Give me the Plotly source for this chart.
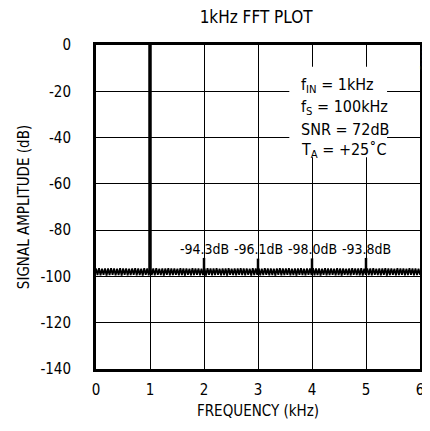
import numpy as np
import plotly.graph_objects as go

# ---- data ----
x_ticks = [0, 1, 2, 3, 4, 5, 6]
y_ticks = [0, -20, -40, -60, -80, -100, -120, -140]

fund_freq = [1]
fund_peak_db = [0]
floor_db = -98.0

harm_freq = [2, 3, 4, 5]
harm_peak_db = [-92.0, -92.3, -92.2, -92.0]
harm_labels = ["-94.3dB", "-96.1dB", "-98.0dB", "-93.8dB"]

noise_db = [
    -96.6, -99.4, -96.4, -99.5, -96.7, -99.3, -96.5, -99.6, -96.6, -99.4, -96.4, -99.3,
    -96.5, -99.5, -96.7, -99.4, -96.4, -99.6, -96.6, -99.3, -96.5, -99.5, -96.7, -99.4,
    -96.6, -99.3, -96.4, -99.5, -96.5, -99.4, -96.7, -99.6, -96.4, -99.3, -96.6, -99.5,
    -96.5, -99.4, -96.6, -99.5, -96.4, -99.3, -96.7, -99.4, -96.5, -99.6, -96.6, -99.3,
    -96.4, -99.5, -96.6, -99.4, -96.5, -99.3, -96.7, -99.5, -96.4, -99.4, -96.6, -99.6,
    -96.5, -99.3, -96.7, -99.5, -96.4, -99.4, -96.6, -99.3, -96.5, -99.5, -96.7, -99.4,
    -96.6, -99.6, -96.4, -99.3, -96.5, -99.5, -96.6, -99.4, -96.4, -99.3, -96.7, -99.5,
    -96.5, -99.4, -96.6, -99.6, -96.4, -99.3, -96.7, -99.4, -96.5, -99.5, -96.6, -99.3,
    -96.4, -99.4, -96.6, -99.5, -96.5, -99.3, -96.7, -99.6, -96.4, -99.4, -96.6, -99.3,
    -96.5, -99.5, -96.7, -99.4, -96.4, -99.3, -96.6, -99.5, -96.5, -99.4, -96.7, -99.6,
    -96.6, -99.3, -96.4, -99.5, -96.5, -99.4, -96.6, -99.3, -96.4, -99.5, -96.7, -99.4,
    -96.5, -99.6, -96.6, -99.3, -96.4, -99.4, -96.7, -99.5, -96.5, -99.3, -96.6, -99.4,
    -96.4, -99.5, -96.6, -99.4, -96.5, -99.6, -96.7, -99.3, -96.4, -99.5, -96.6, -99.4,
    -96.5, -99.3, -96.7, -99.5, -96.4, -99.4, -96.6, -99.6, -96.5, -99.3, -96.7, -99.4,
    -96.6, -99.5, -96.4, -99.3, -96.5, -99.4, -96.6, -99.5, -96.4, -99.6, -96.7, -99.3,
    -96.5, -99.4, -96.6, -99.5, -96.4, -99.3, -96.7, -99.4, -96.5, -99.5, -96.6, -99.3,
    -96.4, -99.6, -96.6, -99.4, -96.5, -99.3, -96.7, -99.5, -96.4, -99.4, -96.6, -99.3,
    -96.5, -99.5, -96.7, -99.4, -96.4, -99.3, -96.6, -99.5, -96.5, -99.4, -96.7, -99.3,
]
noise_freq = np.linspace(0, 6, len(noise_db))

cond_lines = [
    "f<sub>IN</sub> = 1kHz",
    "f<sub>S</sub> = 100kHz",
    "SNR = 72dB",
    "T<sub>A</sub> = +25˚C",
]
cond_y = [-17.5, -27, -36.5, -45.5]

FONT = "Liberation Sans Narrow, DejaVu Sans Condensed, Liberation Sans, Arial, sans-serif"

fig = go.Figure()

fig.add_trace(go.Scatter(x=noise_freq, y=noise_db, mode="lines",
                         line=dict(color="black", width=1.8), hoverinfo="skip"))

for f, p in zip(fund_freq, fund_peak_db):
    fig.add_trace(go.Scatter(x=[f, f], y=[floor_db, p], mode="lines",
                             line=dict(color="black", width=3.5), hoverinfo="skip"))

for f, p in zip(harm_freq, harm_peak_db):
    fig.add_trace(go.Scatter(x=[f, f], y=[floor_db, p], mode="lines",
                             line=dict(color="black", width=2.5), hoverinfo="skip"))

for f, t in zip(harm_freq, harm_labels):
    fig.add_annotation(x=f, y=-88, text=t, showarrow=False,
                       font=dict(family=FONT, size=14, color="black"),
                       xanchor="center", yanchor="middle")

# white panel behind test conditions
fig.add_shape(type="rect", x0=3.58, x1=5.39, y0=-9.4, y1=-48.5,
              fillcolor="white", line=dict(width=0), layer="between")

for t, yy in zip(cond_lines, cond_y):
    fig.add_annotation(x=3.75, y=yy, text=t, showarrow=False,
                       font=dict(family=FONT, size=16, color="black"),
                       xanchor="left", yanchor="middle")

fig.add_annotation(xref="paper", yref="paper", x=1.013, y=0.955, text="G9101_F",
                   showarrow=False, textangle=90, xanchor="center", yanchor="middle",
                   font=dict(family=FONT, size=7, color="#333333"))

fig.update_layout(
    width=422, height=423,
    margin=dict(l=88, r=9.5, t=36.5, b=61.5, autoexpand=False),
    paper_bgcolor="white", plot_bgcolor="white",
    showlegend=False,
    font=dict(family=FONT, size=15, color="black"),
    title=dict(text="1kHz FFT PLOT", x=0.588, xanchor="center", y=0.979, yanchor="middle",
               font=dict(family=FONT, size=17, color="black")),
)

fig.update_xaxes(range=[0, 6], tickvals=x_ticks, ticktext=[str(v) for v in x_ticks],
                 showgrid=True, gridcolor="black", gridwidth=1,
                 showline=True, linecolor="black", linewidth=3, mirror=True,
                 ticks="", zeroline=False, ticklabelstandoff=5, automargin=False,
                 title=dict(text="FREQUENCY (kHz)", standoff=8,
                            font=dict(family=FONT, size=15)))
fig.update_yaxes(range=[-140, 0], tickvals=y_ticks, ticktext=[str(v) for v in y_ticks],
                 showgrid=True, gridcolor="black", gridwidth=1,
                 showline=True, linecolor="black", linewidth=3, mirror=True,
                 ticks="", zeroline=False, ticklabelstandoff=19, automargin=False,
                 title=dict(text="SIGNAL AMPLITUDE (dB)", standoff=8,
                            font=dict(family=FONT, size=15)))

fig.write_html("out.html")
